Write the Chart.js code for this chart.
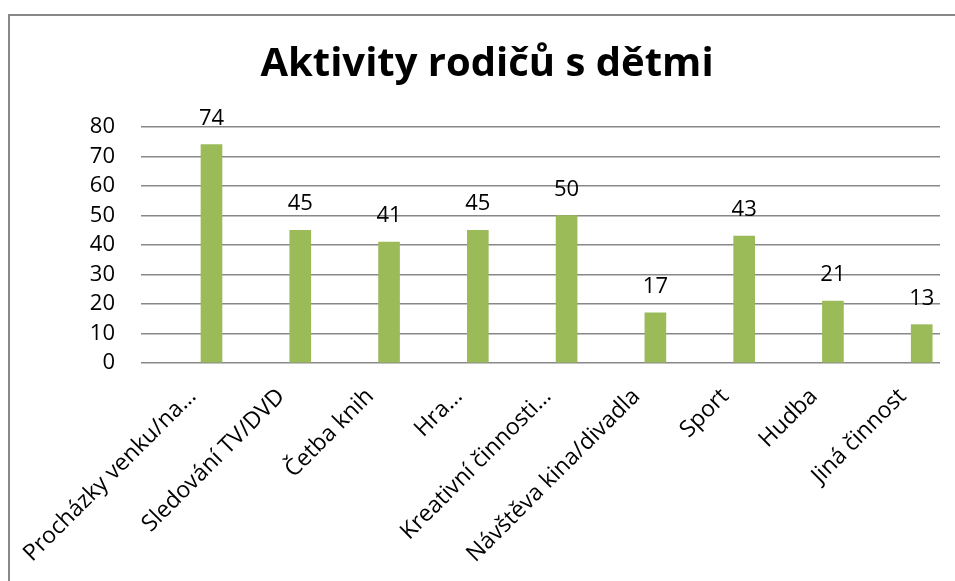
<!DOCTYPE html>
<html lang="cs">
  <head>
    <meta charset="UTF-8" />
    <script src="https://cdn.jsdelivr.net/npm/chart.js"></script>
    <title>Aktivity rodičů s dětmi</title>
    <style>
      body { margin: 0; overflow: hidden; background: #fff; }
      #frame {
        position: absolute; left: 8px; top: 14px;
        width: 1000px; height: 700px;
        border: 2px solid #888;
      }
      #wrap { position: absolute; left: 0; top: 0; width: 955px; height: 581px; }
    </style>
  </head>
  <body>
    <div id="frame"></div>
    <div id="wrap">
      <canvas id="chart"></canvas>
    </div>
  </body>
</html>
<script>
  const categories = [
    "Procházky venku/na…",
    "Sledování TV/DVD",
    "Četba knih",
    "Hra…",
    "Kreativní činnosti…",
    "Návštěva kina/divadla",
    "Sport",
    "Hudba",
    "Jiná činnost",
  ];
  const values = [74, 45, 41, 45, 50, 17, 43, 21, 13];
  const yTicks = [0, 10, 20, 30, 40, 50, 60, 70, 80];

  const font = "'Open Sans', sans-serif";

  // value labels above each bar
  const valueLabels = {
    id: "valueLabels",
    afterDatasetsDraw(chart) {
      const ctx = chart.ctx;
      const meta = chart.getDatasetMeta(0);
      ctx.save();
      ctx.font = "22px " + font;
      ctx.fillStyle = "#000";
      ctx.textAlign = "center";
      ctx.textBaseline = "alphabetic";
      meta.data.forEach((bar, i) => {
        ctx.fillText(String(values[i]), bar.x, bar.y - 20);
      });
      ctx.restore();
    },
  };

  const ctx = document.getElementById("chart").getContext("2d");
  new Chart(ctx, {
    type: "bar",
    data: {
      datasets: [
        {
          data: values.map((v, i) => ({ x: i, y: v })),
          backgroundColor: "#9BBB59",
          barThickness: 21,
        },
      ],
    },
    options: {
      responsive: true,
      maintainAspectRatio: false,
      animation: false,
      layout: { padding: { left: 34, right: 15, top: 0, bottom: 0 } },
      plugins: {
        legend: { display: false },
        tooltip: { enabled: false },
        title: {
          display: true,
          text: "Aktivity rodičů s dětmi",
          color: "#000",
          font: { family: font, size: 40, weight: "bold" },
          padding: { top: 41, bottom: 38 },
        },
      },
      scales: {
        x: {
          type: "linear",
          offset: false,
          min: -0.794,
          max: 8.206,
          afterBuildTicks: (scale) => {
            scale.ticks = categories.map((c, i) => ({ value: i }));
          },
          afterFit: (scale) => {
            scale.height = 218;
            scale.paddingLeft = 0;
            scale.paddingRight = 0;
          },
          grid: { display: false, drawTicks: false },
          border: { display: false },
          ticks: {
            autoSkip: false,
            minRotation: 45,
            maxRotation: 45,
            padding: 20,
            labelOffset: -19,
            color: "#000",
            font: { family: font, size: 23 },
            callback: (v) => categories[v],
          },
        },
        y: {
          min: 0,
          max: 80,
          afterBuildTicks: (scale) => {
            scale.ticks = yTicks.map((v) => ({ value: v }));
          },
          afterFit: (scale) => {
            scale.width = 107;
          },
          grid: { color: "#888", lineWidth: 1.5, drawTicks: false },
          border: { display: false },
          ticks: {
            padding: 26,
            color: "#000",
            font: { family: font, size: 22 },
          },
        },
      },
    },
    plugins: [valueLabels],
  });
</script>
